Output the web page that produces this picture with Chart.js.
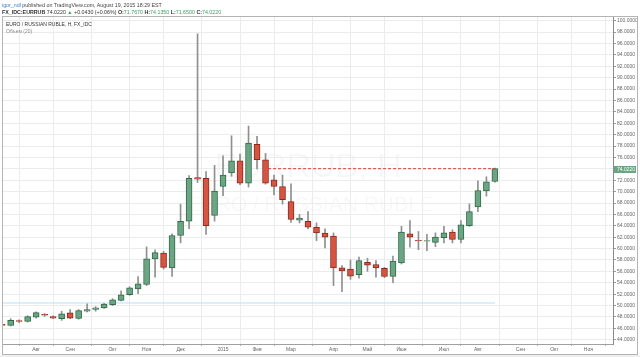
<!DOCTYPE html>
<html>
<head>
<meta charset="utf-8">
<script src="https://cdn.jsdelivr.net/npm/chart.js@4.4.0/dist/chart.umd.min.js"></script>
<style>
html,body{margin:0;padding:0;background:#fff;}
#wrap{position:relative;width:640px;height:357px;overflow:hidden;font-family:"Liberation Sans",Arial,sans-serif;background:#fff;}
#c{position:absolute;left:0;top:0;z-index:2;}
.t{position:absolute;white-space:nowrap;line-height:1;z-index:3;}
.wm{position:absolute;white-space:nowrap;line-height:1;z-index:1;color:rgba(0,0,0,0.045);transform:translate(-50%,-50%);}
.g{color:#3f9b62;}
.b{font-weight:bold;color:#333;}
#strip{position:absolute;left:0;top:355px;width:640px;height:2px;background:#eeeeee;}
</style>
</head>
<body>
<div id="wrap">
  <div class="t" style="left:2px;top:2.5px;font-size:5.3px;color:#444;"><span style="color:#3b7fc8;">igor_ndl</span> published on TradingView.com, August 19, 2015 18:29 EST</div>
  <div class="t" style="left:2px;top:10px;font-size:5.3px;color:#333;"><span class="b">FX_IDC:EURRUB</span> 74.0220 <span class="g">&#9650;</span> +0.0430 (+0.06%) <span class="b">O:</span><span class="g">71.7670</span> <span class="b">H:</span><span class="g">74.1350</span> <span class="b">L:</span><span class="g">71.6500</span> <span class="b">C:</span><span class="g">74.0220</span></div>
  <div class="t" style="left:6px;top:21.5px;font-size:5px;color:#333;">EURO / RUSSIAN RUBLE, Н, FX_IDC</div>
  <div class="t" style="left:6px;top:29px;font-size:5px;color:#8a8a8a;">Объем (20)</div>
  <div class="wm" style="left:308px;top:165px;font-size:34px;">EURRUB, Н</div>
  <div class="wm" style="left:310px;top:203px;font-size:21px;">EURO / RUSSIAN RUBLE</div>
  <canvas id="c" width="640" height="357"></canvas>
  <div id="strip"></div>
</div>
<script>
// ---- data (weekly candles, first week starts 2014-07-07) ----
const firstWeekUTC = Date.UTC(2014, 6, 7);
const firstIndex = -4; // week index relative to 2014-08-04
const opens  = [46.7,46.5,47.35,47.2,47.95,48.45,48.05,47.7,48.7,47.75,49.0,49.3,49.6,50.15,50.9,51.9,52.9,53.7,58.2,59.2,56.6,62.3,64.8,72.45,72.35,65.8,70.9,73.3,75.4,71.5,78.3,75.6,72.05,70.9,68.25,65.0,64.8,63.75,62.7,62.2,56.6,56.4,55.4,57.6,57.2,56.55,55.1,57.5,62.6,61.45,61.3,61.1,61.9,62.9,61.6,64.0,67.3,70.1,71.767];
const highs  = [46.9,47.7,47.5,48.2,48.9,48.6,48.2,49.0,49.3,49.3,50.3,49.8,50.4,51.2,52.6,53.3,55.1,60.3,59.8,59.5,62.6,67.8,72.8,97.7,73.5,74.6,76.3,79.8,76.6,81.5,79.7,76.7,72.9,72.9,71.35,66.0,66.5,64.5,63.45,62.75,57.0,58.0,58.5,58.3,57.9,56.7,58.7,63.9,64.9,63.0,62.5,62.75,63.9,63.3,64.9,67.85,71.9,72.6,74.135];
const lows   = [46.3,46.4,47.0,47.1,47.8,48.1,47.7,47.4,47.7,47.6,48.9,49.0,49.5,50.0,50.8,51.8,52.1,53.5,55.0,56.4,55.1,61.0,63.5,71.6,62.5,64.8,69.3,72.7,71.2,70.8,74.0,71.3,69.4,67.8,64.6,64.5,63.45,61.4,60.1,53.5,52.45,54.6,54.8,56.0,55.0,54.9,54.0,57.3,60.25,59.8,59.65,60.35,61.0,61.0,61.0,63.9,66.5,69.2,71.65];
const closes = [46.5,47.4,47.2,48.05,48.75,48.3,47.8,48.55,47.8,49.1,49.3,49.6,50.25,51.0,51.9,53.1,53.8,58.2,59.3,56.7,62.3,64.8,72.35,72.2,64.0,70.1,72.9,75.4,71.5,78.5,75.6,71.5,70.9,68.6,65.1,65.35,63.75,62.75,62.0,56.6,56.1,55.15,57.9,57.1,56.6,55.1,57.8,62.9,62.0,61.35,61.4,62.0,62.75,61.6,64.15,66.5,70.2,71.7,74.022];
const monthNames = ['Янв','Фев','Мар','Апр','Май','Июн','Июл','Авг','Сен','Окт','Ноя','Дек'];
const priceTicks = [44,46,48,50,52,54,56,58,60,62,64,66,68,70,72,74,76,78,80,82,84,86,88,90,92,94,96,98,100];
const dashedLevel = 74.022;      // user drawn horizontal line
const dashedFromWeek = 27.3;
const blueLevel = 50.45;         // flat light-blue indicator line
const lastWeekShown = 67;        // axis extends into the future

// ---- derived ----
const lastIdx = firstIndex + closes.length - 1;
const bodies = opens.map((o, k) => ({x: firstIndex + k, y: [o, closes[k]]}));
const wicks  = lows.map((l, k) => ({x: firstIndex + k, y: [l, highs[k]]}));
const up = k => closes[k] >= opens[k];
const bodyFill   = opens.map((o, k) => up(k) ? '#6ba583' : '#d75442');
const bodyBorder = opens.map((o, k) => up(k) ? '#2f6b47' : '#8a2a1e');

const xMin = -3.9, xMax = 67.9;
const monthTicks = [];
for (let i = firstIndex; i <= lastWeekShown; i++) {
  const d = new Date(firstWeekUTC + (i - firstIndex) * 7 * 864e5);
  const p = new Date(d.getTime() - 7 * 864e5);
  if (d.getUTCMonth() !== p.getUTCMonth() && i >= xMin) {
    const m = d.getUTCMonth();
    monthTicks.push({i, label: m === 0 ? String(d.getUTCFullYear()) : monthNames[m]});
  }
}
const tickLabel = {};
monthTicks.forEach(t => tickLabel[t.i] = t.label);

const FONT = '"Liberation Sans", Arial, sans-serif';

const decor = {
  id: 'decor',
  afterDraw(chart) {
    const {ctx, chartArea: a, scales: {y}} = chart;
    ctx.save();
    ctx.strokeStyle = '#b4b4b4';
    ctx.lineWidth = 1;
    ctx.strokeRect(2.5, 16.5, 635, 338);
    const last = closes[closes.length - 1];
    const py = y.getPixelForValue(last);
    ctx.fillStyle = '#6ba583';
    ctx.fillRect(a.right + 1, Math.round(py) - 3, 22, 7);
    ctx.fillStyle = '#ffffff';
    ctx.font = '5px ' + FONT;
    ctx.textBaseline = 'middle';
    ctx.fillText(last.toFixed(4), a.right + 4, Math.round(py) + 0.5);
    ctx.restore();
  }
};

new Chart(document.getElementById('c'), {
  type: 'bar',
  data: {
    datasets: [
      {type: 'line', data: [{x: firstIndex, y: blueLevel}, {x: lastIdx, y: blueLevel}],
       borderColor: '#b9ddf3', borderWidth: 1, pointRadius: 0, order: 3},
      {data: wicks, backgroundColor: '#8f8f8f', barThickness: 1, grouped: false, order: 2},
      {data: bodies, backgroundColor: bodyFill, borderColor: bodyBorder, borderWidth: 1,
       borderSkipped: false, barThickness: 6, grouped: false, order: 1},
      {type: 'line', data: [{x: dashedFromWeek, y: dashedLevel}, {x: lastIdx, y: dashedLevel}],
       borderColor: '#d8392d', borderWidth: 1, borderDash: [3, 2], pointRadius: 0, order: 0}
    ]
  },
  options: {
    responsive: false,
    animation: false,
    devicePixelRatio: 1,
    layout: {padding: {left: 3, right: 3, top: 17, bottom: 3}},
    plugins: {legend: {display: false}, tooltip: {enabled: false}},
    scales: {
      x: {
        type: 'linear', min: xMin, max: xMax, offset: false,
        afterBuildTicks: s => { s.ticks = monthTicks.map(t => ({value: t.i})); },
        afterFit: s => { s.height = 10; },
        ticks: {callback: v => tickLabel[v] || '', autoSkip: false, maxRotation: 0,
                font: {size: 5, family: FONT}, color: '#666', padding: 1},
        grid: {color: '#ececec', tickLength: 2, tickColor: '#aaaaaa'},
        border: {color: '#a0a0a0'}
      },
      y: {
        type: 'linear', position: 'right', min: 43.25, max: 100.65,
        afterBuildTicks: s => { s.ticks = priceTicks.map(v => ({value: v})); },
        afterFit: s => { s.width = 24; },
        ticks: {callback: v => Number(v).toFixed(4), autoSkip: false,
                font: {size: 5, family: FONT}, color: '#666', padding: 1},
        grid: {color: '#ececec', tickLength: 3, tickColor: '#999999'},
        border: {color: '#8a8a8a'}
      }
    }
  },
  plugins: [decor]
});
</script>
</body>
</html>
